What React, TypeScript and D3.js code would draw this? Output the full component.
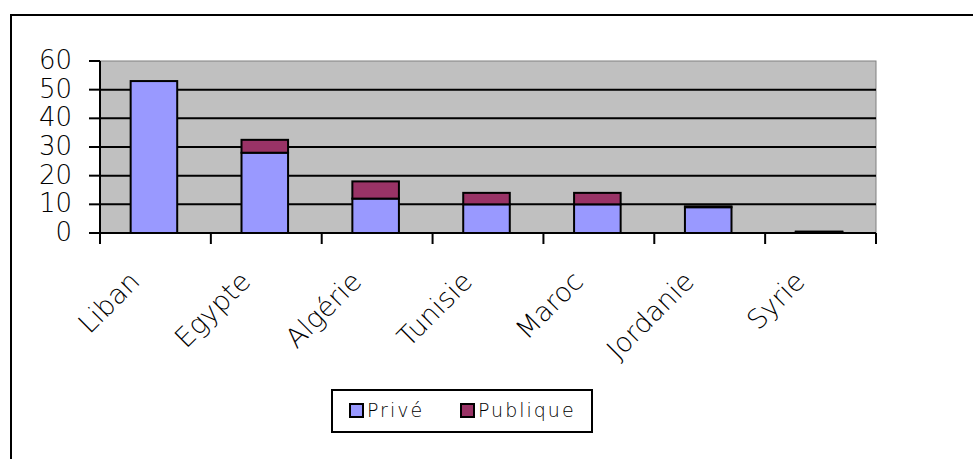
import React, { useRef, useEffect } from "react";
import * as d3 from "d3";

const countries = ["Liban", "Egypte", "Algérie", "Tunisie", "Maroc", "Jordanie", "Syrie"];
const prive = [53, 28, 12, 10, 10, 9, 0.3];
const publique = [0, 4.5, 6, 4, 4, 0.3, 0.2];
const yTicks = [0, 10, 20, 30, 40, 50, 60];
const seriesNames = ["Privé", "Publique"];

const width = 973;
const height = 459;
const colors = ["#9999FF", "#993366"];
const font = "'DejaVu Sans', Arial, sans-serif";

const App = () => {
    const plot = useRef(null);

    useEffect(() => {
        const svg = d3.select(plot.current);
        svg.selectAll("*").remove();

        const left = 100, right = 876, top = 61, bottom = 233;

        const xScale = d3.scaleBand()
                        .domain(countries)
                        .range([left, right])
                        .paddingInner(0.58)
                        .paddingOuter(0.29);
        const band = d3.scaleBand().domain(countries).range([left, right]);

        const yScale = d3.scaleLinear()
                        .domain([0, 60])
                        .range([bottom, top]);

        // outer frame
        svg.append("rect")
            .attr("x", 11).attr("y", 15)
            .attr("width", 1000).attr("height", 500)
            .attr("fill", "white")
            .attr("stroke", "#000")
            .attr("stroke-width", 2);

        // plot background
        svg.append("rect")
            .attr("x", left).attr("y", top)
            .attr("width", right - left).attr("height", bottom - top)
            .attr("fill", "#C0C0C0")
            .attr("stroke", "#808080")
            .attr("stroke-width", 1);

        // gridlines
        svg.append("g")
            .selectAll("line")
            .data(yTicks.filter(d => d > 0 && d < 60))
            .join("line")
            .attr("x1", left).attr("x2", right)
            .attr("y1", d => yScale(d)).attr("y2", d => yScale(d))
            .attr("stroke", "#000")
            .attr("stroke-width", 2);

        // stacked bars
        const table = countries.map((c, i) => ({ country: c, "Privé": prive[i], "Publique": publique[i] }));
        const stacked = d3.stack().keys(seriesNames)(table);

        svg.append("g")
            .selectAll("g")
            .data(stacked)
            .join("g")
            .attr("fill", (d, i) => colors[i])
            .selectAll("rect")
            .data(d => d)
            .join("rect")
            .attr("x", d => xScale(d.data.country) - 1.5)
            .attr("y", d => yScale(d[1]))
            .attr("width", xScale.bandwidth())
            .attr("height", d => Math.max(0, yScale(d[0]) - yScale(d[1])))
            .attr("stroke", "#000")
            .attr("stroke-width", 2);

        // y axis
        const yAxis = svg.append("g");
        yAxis.append("line")
            .attr("x1", left).attr("x2", left)
            .attr("y1", top).attr("y2", bottom)
            .attr("stroke", "#000").attr("stroke-width", 2);
        yAxis.selectAll("line.tick")
            .data(yTicks)
            .join("line")
            .attr("class", "tick")
            .attr("x1", 89).attr("x2", left)
            .attr("y1", d => yScale(d)).attr("y2", d => yScale(d))
            .attr("stroke", "#000").attr("stroke-width", 2);
        yAxis.selectAll("text")
            .data(yTicks)
            .join("text")
            .attr("x", 72)
            .attr("y", d => yScale(d) - 1)
            .attr("text-anchor", "end")
            .attr("dominant-baseline", "central")
            .attr("font-family", font)
            .attr("font-weight", 300)
            .attr("font-size", 26)
            .text(d => d);

        // x axis
        const xAxis = svg.append("g");
        xAxis.append("line")
            .attr("x1", 89).attr("x2", right)
            .attr("y1", bottom).attr("y2", bottom)
            .attr("stroke", "#000").attr("stroke-width", 2);
        const boundaries = countries.map(c => band(c)).concat([right]);
        xAxis.selectAll("line.tick")
            .data(boundaries)
            .join("line")
            .attr("class", "tick")
            .attr("x1", d => d).attr("x2", d => d)
            .attr("y1", bottom).attr("y2", bottom + 11)
            .attr("stroke", "#000").attr("stroke-width", 2);
        xAxis.selectAll("text")
            .data(countries)
            .join("text")
            .attr("transform", d => `translate(${band(d) + band.bandwidth() / 2 - 14}, 283) rotate(-45)`)
            .attr("text-anchor", "end")
            .attr("font-family", font)
            .attr("font-weight", 300)
            .attr("font-size", 27)
            .text(d => d);

        // legend
        const legend = svg.append("g");
        legend.append("rect")
            .attr("x", 332).attr("y", 390)
            .attr("width", 260).attr("height", 42)
            .attr("fill", "white")
            .attr("stroke", "#000")
            .attr("stroke-width", 2);
        const legendX = [350, 461];
        seriesNames.forEach((name, i) => {
            legend.append("rect")
                .attr("x", legendX[i]).attr("y", 404)
                .attr("width", 13).attr("height", 13)
                .attr("fill", colors[i])
                .attr("stroke", "#000")
                .attr("stroke-width", 2);
            legend.append("text")
                .attr("x", legendX[i] + 17)
                .attr("y", 417)
                .attr("font-family", font)
                .attr("font-weight", 300)
                .attr("font-size", 19)
                .attr("letter-spacing", 2)
                .text(name);
        });
    });

    return (
        <svg ref={plot} width={width} height={height}
             style={{ position: "absolute", left: 0, top: 0, background: "white" }} />
    );
};

export default App;
